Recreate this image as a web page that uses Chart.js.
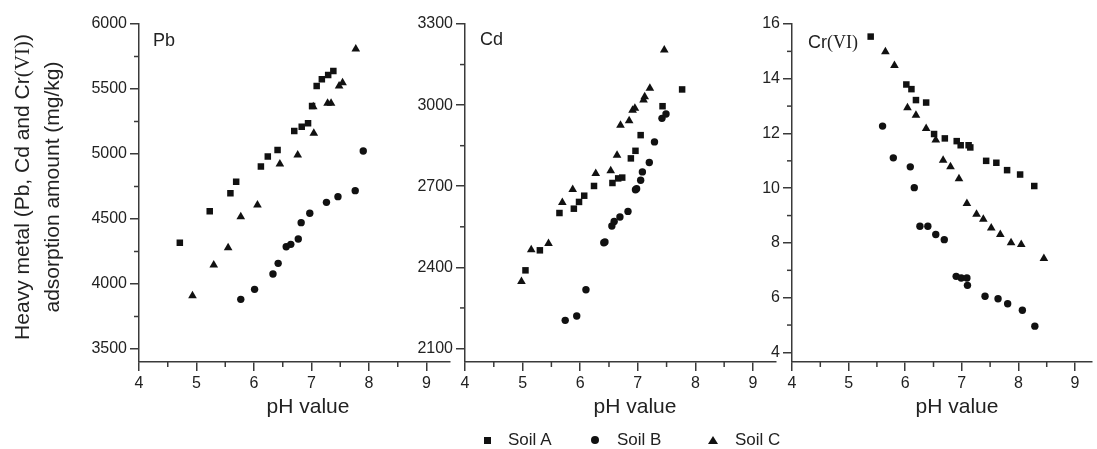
<!DOCTYPE html>
<html>
<head>
<meta charset="utf-8">
<script src="https://cdn.jsdelivr.net/npm/chart.js@4.4.1/dist/chart.umd.min.js"></script>
<style>
  html, body { margin: 0; padding: 0; background: #fff; }
  #wrap { position: relative; width: 1097px; height: 449px; overflow: hidden; font-family: "Liberation Sans", Arial, sans-serif; color: #222; }
  #wrap canvas { position: absolute; left: 0; top: 0; }
  .lbl { position: absolute; white-space: nowrap; }
  .serif { font-family: "Liberation Serif", "Times New Roman", serif; }
  .xtitle { width: 140px; text-align: center; font-size: 21px; line-height: 24px; top: 394px; }
  .panel { font-size: 18px; line-height: 20px; }
  .ytitle { left: -133px; top: 157px; width: 340px; height: 60px; font-size: 21px; line-height: 29px; text-align: center; transform: rotate(-90deg); }
  .leg { font-size: 17px; line-height: 20px; top: 430px; }
  .mk { position: absolute; background: #111; }
</style>
</head>
<body>
<div id="wrap">
  <canvas id="pbChart" width="1097" height="449"></canvas>
  <canvas id="cdChart" width="1097" height="449"></canvas>
  <canvas id="crChart" width="1097" height="449"></canvas>

  <div class="lbl ytitle">Heavy metal (Pb, Cd and Cr<span class="serif">(VI)</span>)<br>adsorption amount (mg/kg)</div>

  <div class="lbl panel" style="left:153px;top:30px">Pb</div>
  <div class="lbl panel" style="left:480px;top:29px">Cd</div>
  <div class="lbl panel" style="left:808px;top:32px">Cr<span class="serif">(VI)</span></div>

  <div class="lbl xtitle" style="left:238px">pH value</div>
  <div class="lbl xtitle" style="left:565px">pH value</div>
  <div class="lbl xtitle" style="left:887px">pH value</div>

  <div class="mk" style="left:484px;top:437px;width:7px;height:7px"></div>
  <div class="lbl leg" style="left:508px">Soil A</div>
  <div class="mk" style="left:591px;top:436px;width:8px;height:8px;border-radius:50%"></div>
  <div class="lbl leg" style="left:617px">Soil B</div>
  <div class="mk" style="left:708px;top:436px;width:0;height:0;background:none;border-left:5px solid transparent;border-right:5px solid transparent;border-bottom:8px solid #111"></div>
  <div class="lbl leg" style="left:735px">Soil C</div>
</div>

<script>
// pH values and adsorbed amounts
const pbSoilA_pH = [4.71, 5.23, 5.59, 5.69, 6.12, 6.24, 6.41, 6.70, 6.83, 6.94, 7.01, 7.09, 7.18, 7.29, 7.38];
const pbSoilA = [4318, 4560, 4698, 4787, 4903, 4980, 5031, 5177, 5210, 5236, 5369, 5523, 5575, 5608, 5638];
const pbSoilB_pH = [5.77, 6.01, 6.33, 6.42, 6.56, 6.64, 6.77, 6.82, 6.97, 7.26, 7.46, 7.76, 7.90];
const pbSoilB = [3882, 3959, 4077, 4159, 4287, 4305, 4346, 4472, 4544, 4628, 4672, 4718, 5023];
const pbSoilC_pH = [4.93, 5.30, 5.55, 5.77, 6.06, 6.45, 6.76, 7.03, 7.04, 7.28, 7.34, 7.48, 7.54, 7.77];
const pbSoilC = [3910, 4146, 4279, 4518, 4608, 4923, 4992, 5364, 5159, 5390, 5390, 5523, 5549, 5808];

const cdSoilA_pH = [5.05, 5.30, 5.64, 5.89, 5.98, 6.07, 6.24, 6.56, 6.66, 6.73, 6.88, 6.96, 7.05, 7.43, 7.77];
const cdSoilA = [2389, 2463, 2601, 2617, 2642, 2665, 2701, 2712, 2729, 2732, 2803, 2831, 2889, 2996, 3058];
const cdSoilB_pH = [5.74, 5.94, 6.10, 6.41, 6.43, 6.55, 6.59, 6.69, 6.83, 6.96, 6.98, 7.05, 7.08, 7.20, 7.29, 7.42, 7.49];
const cdSoilB = [2204, 2220, 2317, 2491, 2494, 2553, 2570, 2586, 2607, 2687, 2691, 2722, 2753, 2788, 2864, 2951, 2967];
const cdSoilC_pH = [4.98, 5.15, 5.45, 5.69, 5.87, 6.27, 6.53, 6.64, 6.70, 6.85, 6.91, 6.95, 7.10, 7.12, 7.21, 7.46];
const cdSoilC = [2348, 2465, 2488, 2640, 2688, 2747, 2757, 2815, 2926, 2942, 2981, 2988, 3019, 3031, 3062, 3204];

const crSoilA_pH = [5.39, 6.02, 6.11, 6.19, 6.37, 6.51, 6.70, 6.91, 6.98, 7.12, 7.15, 7.43, 7.61, 7.80, 8.03, 8.28];
const crSoilA = [15.54, 13.79, 13.62, 13.22, 13.13, 11.98, 11.82, 11.72, 11.57, 11.57, 11.49, 11.00, 10.93, 10.66, 10.50, 10.08];
const crSoilB_pH = [5.60, 5.79, 6.09, 6.16, 6.26, 6.40, 6.54, 6.69, 6.90, 6.99, 7.09, 7.10, 7.41, 7.64, 7.81, 8.07, 8.29];
const crSoilB = [12.27, 11.11, 10.78, 10.02, 8.61, 8.61, 8.31, 8.12, 6.78, 6.72, 6.72, 6.45, 6.05, 5.96, 5.78, 5.54, 4.96];
const crSoilC_pH = [5.65, 5.81, 6.04, 6.19, 6.37, 6.54, 6.67, 6.80, 6.95, 7.09, 7.26, 7.38, 7.52, 7.68, 7.87, 8.05, 8.45];
const crSoilC = [14.99, 14.48, 12.94, 12.67, 12.18, 11.76, 11.02, 10.78, 10.35, 9.44, 9.05, 8.87, 8.55, 8.31, 8.01, 7.94, 7.43];

// tick labels
const pHTicks = [4, 5, 6, 7, 8, 9];
const pbTicks = [3500, 4000, 4500, 5000, 5500, 6000];
const cdTicks = [2100, 2400, 2700, 3000, 3300];
const crTicks = [4, 6, 8, 10, 12, 14, 16];

const soilNames = ['Soil A', 'Soil B', 'Soil C'];
const axisColor = '#3a3a3a';
const CANVAS_W = 1097, CANVAS_H = 449;
const PLOT_TOP = 24, PLOT_BOTTOM = 362;
const Y_AXIS_W = 60, X_AXIS_H = 40;

function toPoints(xs, ys) {
    return xs.map((x, i) => ({ x: x, y: ys[i] }));
}

// short minor ticks half way between the labelled ones
const minorTicks = {
    id: 'minorTicks',
    afterDraw(chart) {
        const ctx = chart.ctx;
        ctx.save();
        ctx.strokeStyle = axisColor;
        ctx.lineWidth = 1.5;
        ['x', 'y'].forEach(id => {
            const s = chart.scales[id];
            const vals = s.ticks.map(t => t.value);
            const step = vals[1] - vals[0];
            for (let v = vals[0] - step / 2; v <= s.max; v += step) {
                if (v < s.min) continue;
                const p = s.getPixelForValue(v);
                ctx.beginPath();
                if (id === 'x') {
                    ctx.moveTo(p, s.top);
                    ctx.lineTo(p, s.top + 5);
                } else {
                    ctx.moveTo(s.right - 5, p);
                    ctx.lineTo(s.right, p);
                }
                ctx.stroke();
            }
        });
        ctx.restore();
    }
};

function makePanel(canvasId, left, right, xMax, yMin, yMax, yTicks, series) {
    const styles = [
        { pointStyle: 'rect', radius: 4.6 },
        { pointStyle: 'circle', radius: 3.7 },
        { pointStyle: 'triangle', radius: 5 }
    ];
    const tickFont = { family: '"Liberation Sans", Arial, sans-serif', size: 16 };
    const axis = (min, max, tickValues, isX) => ({
        type: 'linear',
        min: min,
        max: max,
        afterBuildTicks: s => { s.ticks = tickValues.map(v => ({ value: v })); },
        ticks: { font: tickFont, color: '#222', padding: 3, maxRotation: 0, autoSkip: false, callback: v => String(v) },
        grid: { display: true, drawOnChartArea: false, drawTicks: true, tickLength: 9, color: axisColor, lineWidth: 1.5 },
        border: { display: true, color: axisColor, width: 1.5 },
        afterFit: s => { if (isX) s.height = X_AXIS_H; else s.width = Y_AXIS_W; }
    });

    new Chart(document.getElementById(canvasId), {
        type: 'scatter',
        data: {
            datasets: series.map((pts, i) => ({
                label: soilNames[i],
                data: pts,
                pointStyle: styles[i].pointStyle,
                pointRadius: styles[i].radius,
                pointHoverRadius: styles[i].radius,
                backgroundColor: '#111',
                borderColor: '#111',
                borderWidth: 0
            }))
        },
        options: {
            responsive: false,
            devicePixelRatio: 1,
            animation: false,
            layout: {
                padding: {
                    left: left - Y_AXIS_W,
                    right: CANVAS_W - right,
                    top: PLOT_TOP,
                    bottom: CANVAS_H - PLOT_BOTTOM - X_AXIS_H
                }
            },
            plugins: { legend: { display: false }, tooltip: { enabled: false } },
            scales: {
                x: axis(4, xMax, pHTicks, true),
                y: axis(yMin, yMax, yTicks, false)
            }
        },
        plugins: [minorTicks]
    });
}

makePanel('pbChart', 139, 449.5, 9.4, 3400, 6000, pbTicks, [
    toPoints(pbSoilA_pH, pbSoilA),
    toPoints(pbSoilB_pH, pbSoilB),
    toPoints(pbSoilC_pH, pbSoilC)
]);

makePanel('cdChart', 465, 776, 9.4, 2050, 3300, cdTicks, [
    toPoints(cdSoilA_pH, cdSoilA),
    toPoints(cdSoilB_pH, cdSoilB),
    toPoints(cdSoilC_pH, cdSoilC)
]);

makePanel('crChart', 792, 1097, 9.3, 3.65, 16, crTicks, [
    toPoints(crSoilA_pH, crSoilA),
    toPoints(crSoilB_pH, crSoilB),
    toPoints(crSoilC_pH, crSoilC)
]);
</script>
</body>
</html>
